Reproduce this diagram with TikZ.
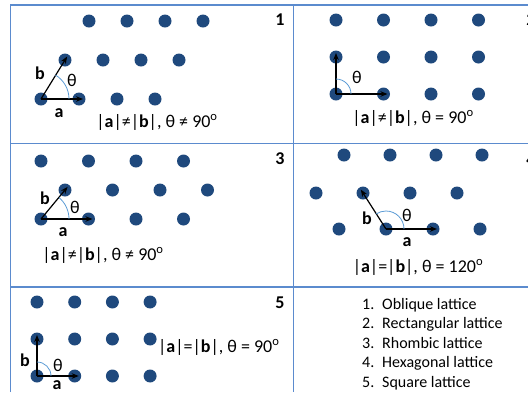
\documentclass[tikz,border=0pt]{standalone}
\usepackage{fontspec}
\setmainfont{Carlito}
\usetikzlibrary{arrows.meta}
\definecolor{gridblue}{RGB}{91,139,206}
\definecolor{dotblue}{RGB}{31,73,125}
\definecolor{arcblue}{RGB}{91,155,213}
\tikzset{
  dot/.style={circle,fill=dotblue,inner sep=0,minimum size=13pt},
  vec/.style={-{Stealth[length=7pt,width=5.5pt]},line width=1.2pt,shorten >=-4pt},
  ang/.style={arcblue,line width=0.8pt},
  lbl/.style={font=\fontsize{18}{21}\selectfont\bfseries,inner sep=0},
  cond/.style={font=\fontsize{18}{21}\selectfont,inner sep=0},
  item/.style={font=\fontsize{16}{19}\selectfont,inner sep=0,anchor=base west},
  grid/.style={gridblue,line width=1.3pt}
}
\newcommand{\vb}[1]{\textbf{#1}}
\newcommand{\dg}{\textsuperscript{o}}

\begin{document}
\begin{tikzpicture}[x=1pt,y=-1pt]
    \useasboundingbox (0,0) rectangle (528,392);
    \clip (0,0) rectangle (528,392);
    % frame
    \draw[grid] (10.5,392) -- (10.5,5) -- (528,5);
    \draw[grid] (293.5,5) -- (293.5,392);
    \draw[grid] (10.5,143.5) -- (528,143.5);
    \draw[grid] (10.5,287) -- (528,287);
    % 1: oblique
    \foreach \c in {0,...,3} {
        \node[dot] (p1-1-\c) at (41+38*\c,99) {};
        \node[dot] (p1-2-\c) at (65+38*\c,60) {};
        \node[dot] (p1-3-\c) at (89+38*\c,21) {};
    }
    \draw[vec] (p1-1-0.center) -- (p1-1-1.center);
    \draw[vec] (p1-1-0.center) -- (p1-2-0.center);
    \draw[ang] ([xshift=28pt]p1-1-0.center) arc[start angle=0,end angle=-59,radius=28];
    \node[lbl] (b1) at (40,73) {b};
    \node[cond] (t1) at (72,80) {θ};
    \node[lbl] (a1) at (59,113) {a};
    \node[cond] (c1) at (157,122) {|\vb{a}|≠|\vb{b}|, θ ≠ 90\dg};
    \node[lbl] (n1) at (280,20) {1};
    % 2: rectangular
    \foreach \c in {0,...,3}
        \foreach \r in {1,2,3}
            \node[dot] (p2-\r-\c) at (336+47.5*\c,131-37*\r) {};
    \draw[vec] (p2-1-0.center) -- (p2-1-1.center);
    \draw[vec] (p2-1-0.center) -- (p2-2-0.center);
    \draw[ang] ([xshift=15pt]p2-1-0.center) arc[start angle=0,end angle=-90,radius=15];
    \node[cond] (t2) at (357,77) {θ};
    \node[cond] (c2) at (413,118) {|\vb{a}|≠|\vb{b}|, θ = 90\dg};
    \node[lbl] (n2) at (531,20) {2};
    % 3: rhombic
    \foreach \c in {0,...,3} {
        \node[dot] (p3-1-\c) at (41+47.5*\c,219) {};
        \node[dot] (p3-2-\c) at (65+47.5*\c,190) {};
        \node[dot] (p3-3-\c) at (41+47.5*\c,161) {};
    }
    \draw[vec] (p3-1-0.center) -- (p3-1-1.center);
    \draw[vec] (p3-1-0.center) -- (p3-2-0.center);
    \draw[ang] ([xshift=28pt]p3-1-0.center) arc[start angle=0,end angle=-50,radius=28];
    \node[lbl] (b3) at (45,198) {b};
    \node[cond] (t3) at (75,207) {θ};
    \node[lbl] (a3) at (63,232) {a};
    \node[cond] (c3) at (103,255) {|\vb{a}|≠|\vb{b}|, θ ≠ 90\dg};
    \node[lbl] (n3) at (280,159) {3};
    % 4: hexagonal
    \foreach \c in {0,...,3} {
        \node[dot] (p4-1-\c) at (339+47*\c,229) {};
        \node[dot] (p4-2-\c) at (316+47*\c,193) {};
        \node[dot] (p4-3-\c) at (344+46*\c,155) {};
    }
    \draw[vec] (p4-1-1.center) -- (p4-1-2.center);
    \draw[vec] (p4-1-1.center) -- (p4-2-1.center);
    \draw[ang] ([xshift=18pt]p4-1-1.center) arc[start angle=0,end angle=-123,radius=18];
    \node[lbl] (b4) at (367,218) {b};
    \node[cond] (t4) at (407,215) {θ};
    \node[lbl] (a4) at (407,242) {a};
    \node[cond] (c4) at (418,267) {|\vb{a}|=|\vb{b}|, θ = 120\dg};
    \node[lbl] (n4) at (531,160) {4};
    % 5: square
    \foreach \c in {0,...,3}
        \foreach \r in {1,2,3}
            \node[dot] (p5-\r-\c) at (37+37.7*\c,413-37*\r) {};
    \draw[vec] (p5-1-0.center) -- (p5-1-1.center);
    \draw[vec] (p5-1-0.center) -- (p5-2-0.center);
    \draw[ang] ([xshift=14pt]p5-1-0.center) arc[start angle=0,end angle=-90,radius=14];
    \node[lbl] (b5) at (25,360) {b};
    \node[cond] (t5) at (58,365) {θ};
    \node[lbl] (a5) at (57,385) {a};
    \node[cond,anchor=west] (c5) at (158,347) {|\vb{a}|=|\vb{b}|, θ = 90\dg};
    \node[lbl] (n5) at (280,303) {5};
    % list
    \foreach \n/\t [count=\i] in {1/Oblique lattice,2/Rectangular lattice,3/Rhombic lattice,4/Hexagonal lattice,5/Square lattice} {
        \node[item] (k\i) at (362,309+19.6*\i-19.6) {\n.};
        \node[item] (l\i) at (382,309+19.6*\i-19.6) {\t};
    }
\end{tikzpicture}
\end{document}
